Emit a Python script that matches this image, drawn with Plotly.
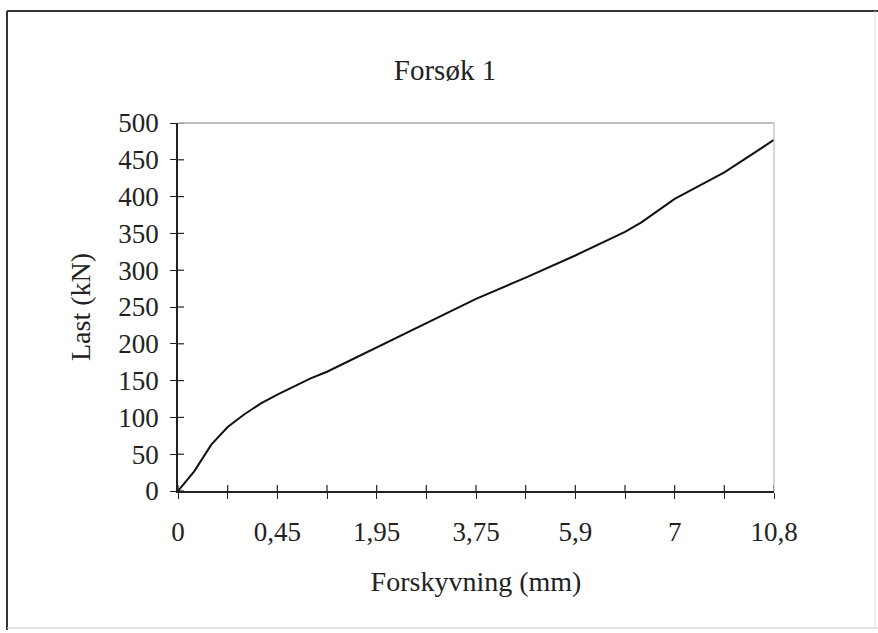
import plotly.graph_objects as go

# Data (category positions in tick units)
pos = [0, 0.33, 0.67, 1, 1.33, 1.67, 2, 2.67, 3, 4, 5, 6, 7, 8, 9, 9.33, 10, 11, 12]
load_kN = [0, 27, 63, 87, 104, 119, 131, 153, 162, 195, 229, 261, 290, 320, 352, 365, 397, 433, 477]

tick_pos = list(range(13))
tick_text = ["0", "", "0,45", "", "1,95", "", "3,75", "", "5,9", "", "7", "", "10,8"]

FONT = "Liberation Serif"

fig = go.Figure()
fig.add_trace(go.Scatter(
    x=pos, y=load_kN, mode="lines",
    line=dict(color="#111111", width=2),
    showlegend=False, hoverinfo="skip",
))

W, H = 878, 633
L, R, T, B = 178, 104, 123, 142
pw, ph = W - L - R, H - T - B

def px(x):
    return (x - L) / pw

def py(y):
    return (H - B - y) / ph

fig.update_layout(
    width=W, height=H,
    margin=dict(l=L, r=R, t=T, b=B),
    paper_bgcolor="white", plot_bgcolor="white",
    font=dict(family=FONT, color="#222222", size=27),
    title=dict(text="Forsøk 1", x=px(445), xref="paper", xanchor="center",
               y=1 - 70 / H, yanchor="middle", font=dict(size=29, family=FONT)),
    xaxis=dict(
        range=[0, 12], tickmode="array", tickvals=tick_pos, ticktext=tick_text,
        showgrid=False, zeroline=False, showline=True, linecolor="#222222", linewidth=1.5,
        ticks="outside", ticklen=6, tickcolor="#222222", tickwidth=1.2,
        ticklabelstandoff=10,
        tickfont=dict(size=27, family=FONT),
        title=dict(text="Forskyvning (mm)", font=dict(size=28, family=FONT), standoff=25),
    ),
    yaxis=dict(
        range=[0, 500], tickmode="array", tickvals=list(range(0, 501, 50)),
        showgrid=False, zeroline=False, showline=True, linecolor="#222222", linewidth=1.5,
        ticks="outside", ticklen=6, tickcolor="#222222", tickwidth=1.2,
        ticklabelstandoff=6,
        tickfont=dict(size=27, family=FONT),
        title=dict(text="Last (kN)", font=dict(size=28, family=FONT), standoff=20),
    ),
)

# inward half of the crossing ticks
shapes = []
for t in tick_pos:
    shapes.append(dict(type="line", xref="x", yref="paper", x0=t, x1=t, y0=0, y1=6 / ph,
                       line=dict(color="#222222", width=1.2)))
for v in range(0, 501, 50):
    shapes.append(dict(type="line", xref="paper", yref="y", x0=0, x1=6 / pw, y0=v, y1=v,
                       line=dict(color="#222222", width=1.2)))
# plot area top and right borders (grey)
shapes.append(dict(type="line", xref="paper", yref="paper", x0=0, x1=1, y0=1, y1=1,
                   line=dict(color="#aaaaaa", width=1.5)))
shapes.append(dict(type="line", xref="paper", yref="paper", x0=1, x1=1, y0=0, y1=1,
                   line=dict(color="#bbbbbb", width=1.2)))
# outer frame
shapes.append(dict(type="line", xref="paper", yref="paper", x0=px(7), x1=px(878), y0=py(11), y1=py(11),
                   line=dict(color="#333333", width=2)))
shapes.append(dict(type="line", xref="paper", yref="paper", x0=px(7), x1=px(7), y0=py(11), y1=py(630),
                   line=dict(color="#333333", width=2)))
shapes.append(dict(type="line", xref="paper", yref="paper", x0=px(7), x1=px(878), y0=py(628), y1=py(628),
                   line=dict(color="#cccccc", width=1.2)))
shapes.append(dict(type="line", xref="paper", yref="paper", x0=px(875), x1=px(875), y0=py(11), y1=py(628),
                   line=dict(color="#e0e0e0", width=1)))
fig.update_layout(shapes=shapes)

fig.write_html("out.html")
